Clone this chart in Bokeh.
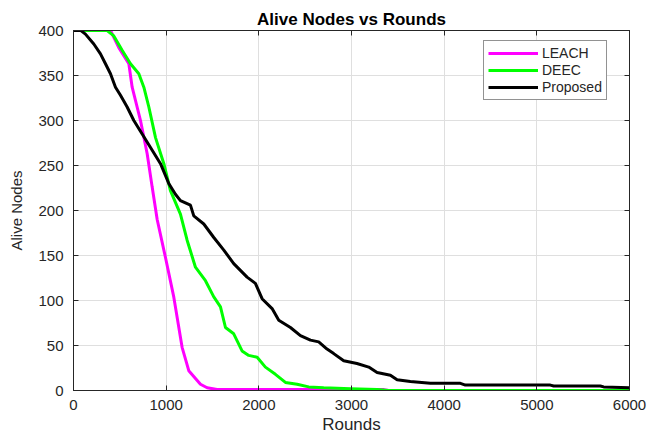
from bokeh.plotting import figure
from bokeh.models import Range1d, LinearAxis, FixedTicker, Legend, LegendItem, CustomJSTickFormatter
from bokeh.embed import file_html
from bokeh.resources import INLINE

# Data
leach_rounds = [0, 400, 489, 597, 633, 723, 795, 849, 903, 992, 1082, 1172, 1244, 1370, 1442, 1550, 1700, 3350, 3400, 6000]
leach_alive = [400, 400, 381, 363, 337, 300, 263, 226, 190, 148, 104, 48, 22, 7, 3, 1, 1, 1, 0, 0]

deec_rounds = [0, 363, 435, 525, 615, 705, 759, 813, 885, 975, 1046, 1154, 1226, 1316, 1424, 1514, 1586, 1640, 1729, 1819, 1891, 1982, 2071, 2179, 2287, 2413, 2538, 2700, 2988, 3276, 3400, 6000]
deec_alive = [400, 400, 394, 378, 363, 352, 337, 315, 281, 252, 222, 196, 167, 137, 122, 104, 93, 70, 63, 44, 39, 37, 26, 18, 9, 7, 4, 3, 2, 1, 0, 0]

prop_rounds = [0, 80, 129, 219, 291, 345, 399, 453, 507, 579, 651, 741, 831, 939, 1028, 1100, 1154, 1262, 1298, 1406,
               1514, 1622, 1729, 1873, 1963, 2035, 2143, 2215, 2341, 2449, 2557, 2646, 2736, 2808, 2916, 3059, 3186, 3276, 3420, 3492,
               3635, 3851, 4175, 4229, 5146, 5182, 5685, 5721, 6000]
prop_alive = [400, 400, 396, 385, 374, 363, 352, 337, 328, 315, 300, 285, 270, 252, 230, 218, 211, 206, 194, 185,
              170, 156, 141, 126, 119, 102, 91, 78, 70, 61, 56, 54, 46, 41, 33, 30, 26, 20, 17, 12,
              10, 8, 8, 6, 6, 5, 5, 4, 3]

x_ticks = [0, 1000, 2000, 3000, 4000, 5000, 6000]
y_ticks = [0, 50, 100, 150, 200, 250, 300, 350, 400]

FONT = "Liberation Sans"
DARK = "#262626"

p = figure(width=647, height=437, output_backend="svg", toolbar_location=None,
           x_range=Range1d(0, 6000), y_range=Range1d(0, 400),
           min_border_left=73, min_border_right=18, min_border_top=30, min_border_bottom=47,
           title="Alive Nodes vs Rounds")

p.title.align = "center"
p.title.text_font = FONT
p.title.text_font_size = "17px"
p.title.text_font_style = "bold"
p.title.text_color = "black"
p.title.offset = 0
p.title.standoff = 4

p.outline_line_color = DARK
p.outline_line_width = 1
p.background_fill_color = "white"
p.border_fill_color = "white"

for ax in (p.xaxis[0], p.yaxis[0]):
    ax.major_tick_in = 5
    ax.major_tick_out = 0
    ax.minor_tick_in = 0
    ax.minor_tick_out = 0
    ax.axis_line_color = DARK
    ax.major_tick_line_color = DARK
    ax.major_label_text_font = FONT
    ax.major_label_text_font_size = "15px"
    ax.major_label_text_color = DARK
    ax.axis_label_text_font = FONT
    ax.axis_label_text_font_style = "normal"
    ax.axis_label_text_color = DARK

p.xaxis[0].ticker = FixedTicker(ticks=x_ticks)
p.yaxis[0].ticker = FixedTicker(ticks=y_ticks)
p.xaxis[0].axis_label = "Rounds"
p.yaxis[0].axis_label = "Alive Nodes"
p.xaxis[0].axis_label_text_font_size = "17px"
p.yaxis[0].axis_label_text_font_size = "15px"
p.xaxis[0].axis_label_standoff = 2
p.yaxis[0].axis_label_standoff = 10
p.xaxis[0].major_label_standoff = 9
p.yaxis[0].major_label_standoff = 10

# top & right tick-only axes (no labels)
blank = CustomJSTickFormatter(code="return '';")
top = LinearAxis(ticker=FixedTicker(ticks=x_ticks), formatter=blank,
                 major_tick_in=5, major_tick_out=0, minor_tick_in=0, minor_tick_out=0,
                 axis_line_color=DARK, major_tick_line_color=DARK, major_label_standoff=0)
right = LinearAxis(ticker=FixedTicker(ticks=y_ticks), formatter=blank,
                   major_tick_in=5, major_tick_out=0, minor_tick_in=0, minor_tick_out=0,
                   axis_line_color=DARK, major_tick_line_color=DARK, major_label_standoff=0)
p.add_layout(top, "above")
p.add_layout(right, "right")

p.xgrid.ticker = FixedTicker(ticks=x_ticks)
p.ygrid.ticker = FixedTicker(ticks=y_ticks)
p.xgrid.grid_line_color = "#dfdfdf"
p.ygrid.grid_line_color = "#dfdfdf"

r1 = p.line(leach_rounds, leach_alive, line_color="#ff00ff", line_width=3)
r2 = p.line(deec_rounds, deec_alive, line_color="#00ff00", line_width=3)
r3 = p.line(prop_rounds, prop_alive, line_color="black", line_width=3)

legend = Legend(items=[LegendItem(label="LEACH", renderers=[r1]),
                       LegendItem(label="DEEC", renderers=[r2]),
                       LegendItem(label="Proposed", renderers=[r3])],
                location=(410, 290))
legend.label_text_font = FONT
legend.label_text_font_size = "14px"
legend.label_text_color = DARK
legend.glyph_width = 50
legend.glyph_height = 16
legend.label_height = 16
legend.spacing = 1
legend.padding = 4
legend.label_standoff = 4
legend.border_line_color = DARK
legend.border_line_width = 1
legend.background_fill_alpha = 1
p.add_layout(legend, "center")

open("out.html", "w").write(file_html(p, INLINE))
